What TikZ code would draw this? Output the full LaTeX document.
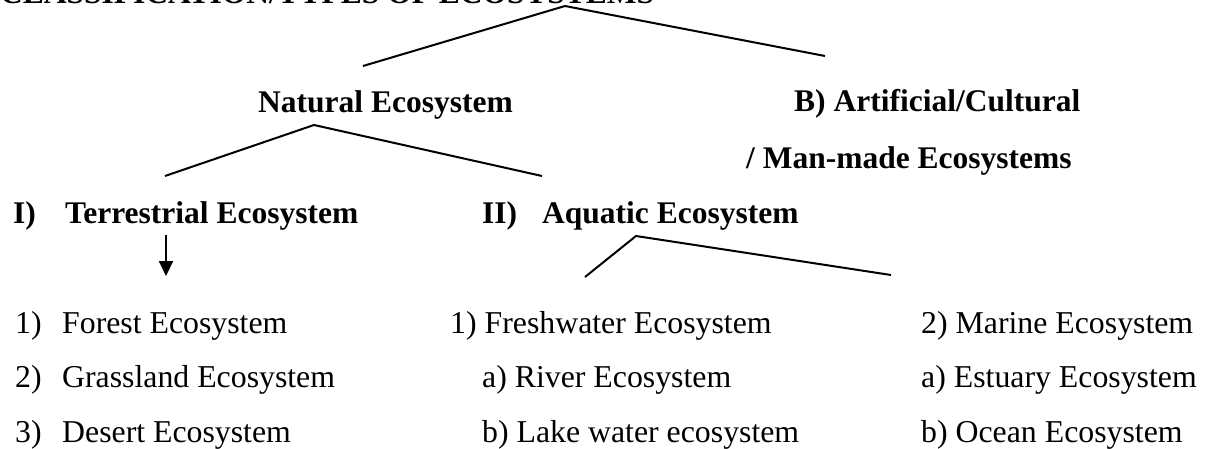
\documentclass[tikz,border=0pt]{standalone}
\usepackage{fontspec}
\setmainfont{Liberation Serif}
\usetikzlibrary{arrows.meta}
\begin{document}
\begin{tikzpicture}[x=1pt,y=-1pt,
  txt/.style={anchor=base west,inner sep=0pt,font=\fontsize{31.8}{38}\selectfont},
  btxt/.style={anchor=base west,inner sep=0pt,font=\fontsize{31.5}{38}\selectfont\bfseries},
  branch/.style={line width=2pt,line join=miter},
  downarrow/.style={line width=2pt,-{Triangle[length=15pt,width=14pt]}}]
\useasboundingbox (0,0) rectangle (1206,449);
\fill[white] (0,0) rectangle (1206,449);
% title (clipped at the top in the reference)
\node[btxt] (title) at (0,4) {CLASSIFICATION/TYPES OF ECOSYSTEMS};
% level 1
\node[btxt] (natural) at (258,113) {Natural Ecosystem};
\node[btxt] (artificial) at (794,112) {B) Artificial/Cultural};
\node[btxt] (manmade) at (746,169) {/ Man-made Ecosystems};
% level 2
\node[btxt] (terrnum) at (13,223) {I)};
\node[btxt] (terr) at (65,223) {Terrestrial Ecosystem};
\node[btxt] (aqnum) at (482,223) {II)};
\node[btxt] (aq) at (542,223) {Aquatic Ecosystem};
% level 3, terrestrial
\node[txt] (f1num) at (15,333) {1)};
\node[txt] (forest) at (62,333) {Forest Ecosystem};
\node[txt] (f2num) at (15,387) {2)};
\node[txt] (grass) at (62,387) {Grassland Ecosystem};
\node[txt] (f3num) at (15,442) {3)};
\node[txt] (desert) at (62,442) {Desert Ecosystem};
% level 3, aquatic
\node[txt] (fresh) at (450,333) {1) Freshwater Ecosystem};
\node[txt] (river) at (482,387) {a) River Ecosystem};
\node[txt] (lake) at (482,442) {b) Lake water ecosystem};
\node[txt] (marine) at (921,333) {2) Marine Ecosystem};
\node[txt] (estuary) at (921,387) {a) Estuary Ecosystem};
\node[txt] (ocean) at (921,442) {b) Ocean Ecosystem};
% branch points
\coordinate (topapex) at (565,6);
\coordinate (topleft) at (363,66);
\coordinate (topright) at (825,56);
\coordinate (natapex) at (314,125);
\coordinate (natleft) at (165,176);
\coordinate (natright) at (542,176);
\coordinate (aqapex) at (636,236);
\coordinate (aqleft) at (585,277);
\coordinate (aqright) at (891,275);
\coordinate (terrtop) at (166,235);
\coordinate (terrtip) at (166,276);
\draw[branch] (topleft) -- (topapex) -- (topright);
\draw[branch] (natleft) -- (natapex) -- (natright);
\draw[branch] (aqleft) -- (aqapex) -- (aqright);
\draw[downarrow] (terrtop) -- (terrtip);
\end{tikzpicture}
\end{document}
